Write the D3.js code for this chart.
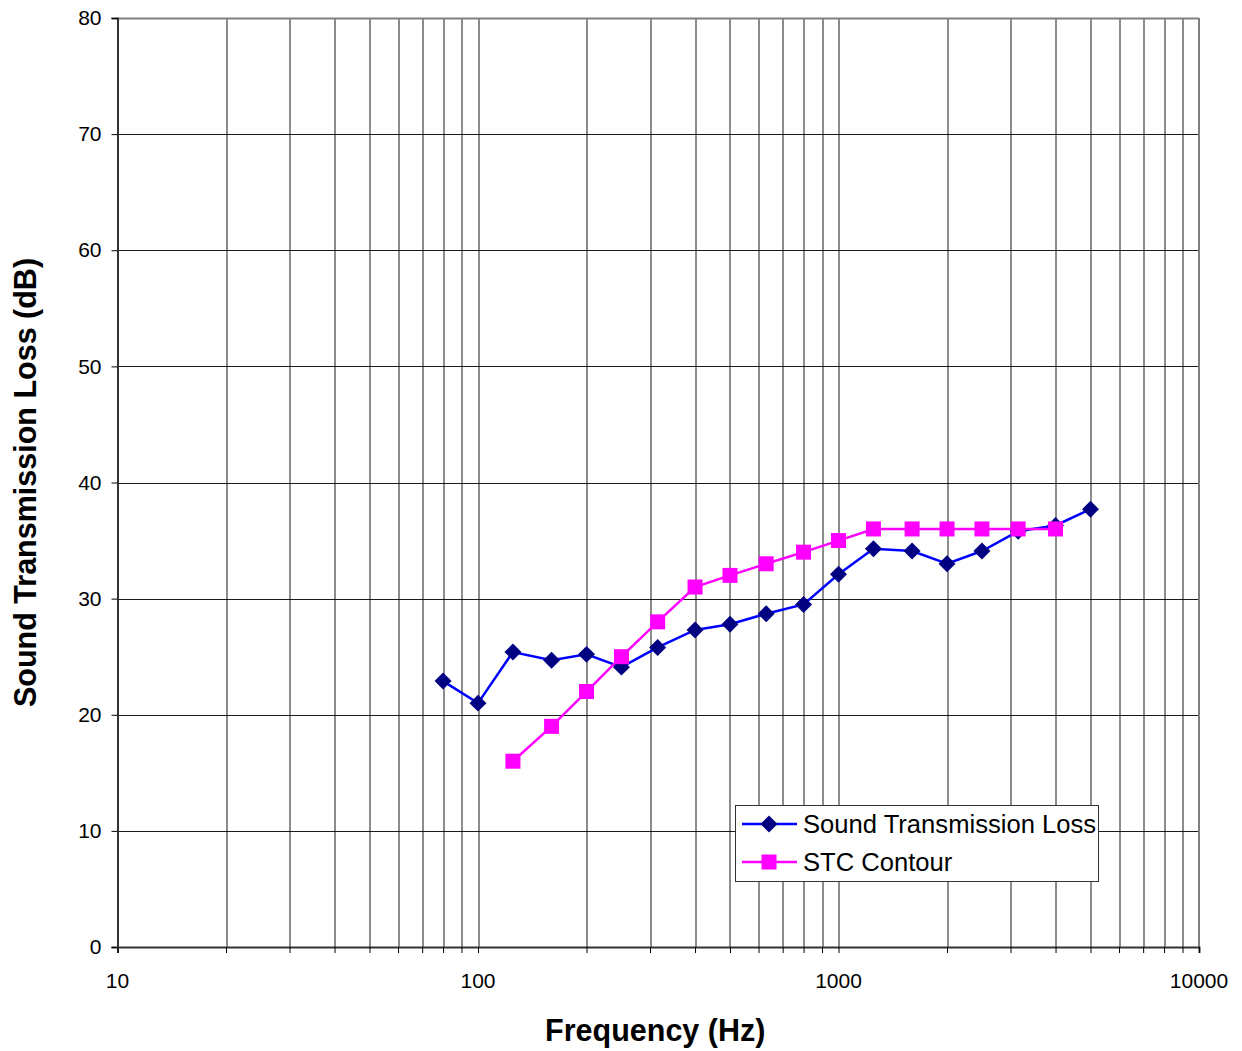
<!DOCTYPE html>
<html>
<head>
<meta charset="utf-8">
<script src="https://cdn.jsdelivr.net/npm/d3@7"></script>
<style>
  body { margin: 0; background: #fff; }
  svg text { font-family: Arial, "Liberation Sans", sans-serif; }
</style>
</head>
<body>
<svg id="chart" width="1242" height="1051"></svg>
<script>
var freqs = [80, 100, 125, 160, 200, 250, 315, 400, 500, 630, 800, 1000, 1250, 1600, 2000, 2500, 3150, 4000, 5000];
var stlValues = [22.9, 21.0, 25.4, 24.7, 25.2, 24.1, 25.8, 27.3, 27.8, 28.7, 29.5, 32.1, 34.3, 34.1, 33.0, 34.1, 35.8, 36.3, 37.7];
var stcFreqs = [125, 160, 200, 250, 315, 400, 500, 630, 800, 1000, 1250, 1600, 2000, 2500, 3150, 4000];
var stcValues = [16, 19, 22, 25, 28, 31, 32, 33, 34, 35, 36, 36, 36, 36, 36, 36];
var xTickLabels = [10, 100, 1000, 10000];
var yTicks = [0, 10, 20, 30, 40, 50, 60, 70, 80];

var margin = {top: 18, right: 43, bottom: 104, left: 117.5},
  width = 1242 - margin.left - margin.right,
  height = 1051 - margin.top - margin.bottom;

var svg = d3.select("#chart");
var g = svg.append("g")
  .attr("transform", "translate(" + margin.left + "," + margin.top + ")");

var x = d3.scaleLog().domain([10, 10000]).range([0, width]);
var y = d3.scaleLinear().domain([0, 80]).range([height, 0]);

// all log gridlines 10..10000
var minor = [];
[10, 100, 1000].forEach(function (d) {
  for (var k = 1; k < 10; k++) minor.push(d * k);
});
minor.push(10000);

g.selectAll(".vgrid")
  .data(minor.filter(function (d) { return d > 10 && d < 10000; }))
  .enter().append("line")
  .attr("x1", function (d) { return Math.round(x(d)) + 0.5; })
  .attr("x2", function (d) { return Math.round(x(d)) + 0.5; })
  .attr("y1", 0).attr("y2", height)
  .attr("stroke", "#000").attr("stroke-width", 0.9);

g.selectAll(".hgrid")
  .data(yTicks.filter(function (d) { return d > 0 && d < 80; }))
  .enter().append("line")
  .attr("x1", 0).attr("x2", width)
  .attr("y1", function (d) { return Math.round(y(d)) + 0.5; })
  .attr("y2", function (d) { return Math.round(y(d)) + 0.5; })
  .attr("stroke", "#000").attr("stroke-width", 0.9);

// top / right border
g.append("line").attr("x1", 0).attr("x2", width).attr("y1", 0.5).attr("y2", 0.5)
  .attr("stroke", "#808080").attr("stroke-width", 2);
g.append("line").attr("x1", width).attr("x2", width).attr("y1", 0).attr("y2", height)
  .attr("stroke", "#808080").attr("stroke-width", 2);

// axes
var xAxis = d3.axisBottom(x).tickValues(minor).tickSize(6).tickFormat("");
g.append("g").attr("transform", "translate(0," + height + ")").call(xAxis)
  .call(function (s) {
    s.select(".domain").attr("stroke", "#333").attr("stroke-width", 2);
    s.selectAll(".tick line").attr("stroke", "#000");
  });

g.selectAll(".xlab")
  .data(xTickLabels)
  .enter().append("text")
  .attr("x", function (d) { return x(d); })
  .attr("y", height + 41)
  .attr("text-anchor", "middle")
  .attr("font-size", 21)
  .text(function (d) { return d; });

var yAxis = d3.axisLeft(y).tickValues(yTicks).tickSize(6).tickPadding(10)
  .tickFormat(d3.format("d"));
g.append("g").call(yAxis)
  .call(function (s) {
    s.select(".domain").attr("stroke", "#333").attr("stroke-width", 2);
    s.selectAll(".tick line").attr("stroke", "#000");
    s.selectAll(".tick text").attr("font-size", 21).attr("fill", "#000")
      .attr("font-family", "Arial, 'Liberation Sans', sans-serif");
  });

// series
var stl = freqs.map(function (f, i) { return {f: f, v: stlValues[i]}; });
var stc = stcFreqs.map(function (f, i) { return {f: f, v: stcValues[i]}; });

var line = d3.line()
  .x(function (d) { return x(d.f); })
  .y(function (d) { return y(d.v); });

g.append("path").datum(stl).attr("d", line)
  .attr("fill", "none").attr("stroke", "#0000ff").attr("stroke-width", 2.5);
g.append("path").datum(stc).attr("d", line)
  .attr("fill", "none").attr("stroke", "#ff00ff").attr("stroke-width", 2.5);

g.selectAll(".stl")
  .data(stl)
  .enter().append("rect")
  .attr("x", -6).attr("y", -6).attr("width", 12).attr("height", 12)
  .attr("transform", function (d) { return "translate(" + x(d.f) + "," + y(d.v) + ") rotate(45)"; })
  .attr("fill", "#000080");

g.selectAll(".stc")
  .data(stc)
  .enter().append("rect")
  .attr("x", function (d) { return x(d.f) - 7.5; })
  .attr("y", function (d) { return y(d.v) - 7.5; })
  .attr("width", 15).attr("height", 15)
  .attr("fill", "#ff00ff");

// legend
var lg = svg.append("g").attr("transform", "translate(735,805)");
lg.append("rect").attr("x", 0.5).attr("y", 0.5).attr("width", 363).attr("height", 76)
  .attr("fill", "#fff").attr("stroke", "#333").attr("stroke-width", 1);

var legendItems = [
  {name: "Sound Transmission Loss", color: "#0000ff", mark: "diamond"},
  {name: "STC Contour", color: "#ff00ff", mark: "square"}
];
var row = lg.selectAll(".row").data(legendItems).enter().append("g")
  .attr("transform", function (d, i) { return "translate(0," + (19 + i * 38) + ")"; });
row.append("line").attr("x1", 7).attr("x2", 62).attr("y1", 0).attr("y2", 0)
  .attr("stroke", function (d) { return d.color; }).attr("stroke-width", 2.5);
row.append("rect")
  .attr("x", function (d) { return d.mark === "diamond" ? -6 : -7.5; })
  .attr("y", function (d) { return d.mark === "diamond" ? -6 : -7.5; })
  .attr("width", function (d) { return d.mark === "diamond" ? 12 : 15; })
  .attr("height", function (d) { return d.mark === "diamond" ? 12 : 15; })
  .attr("transform", function (d) { return "translate(34,0)" + (d.mark === "diamond" ? " rotate(45)" : ""); })
  .attr("fill", function (d) { return d.mark === "diamond" ? "#000080" : "#ff00ff"; });
row.append("text").attr("x", 68).attr("y", 9)
  .attr("font-size", 25.6).text(function (d) { return d.name; });

// axis titles
svg.append("text")
  .attr("x", margin.left + width / 2 - 3).attr("y", 1041)
  .attr("text-anchor", "middle").attr("font-size", 30.5).attr("font-weight", "bold")
  .text("Frequency (Hz)");
svg.append("text")
  .attr("transform", "translate(36," + (margin.top + height / 2) + ") rotate(-90)")
  .attr("text-anchor", "middle").attr("font-size", 30.5).attr("font-weight", "bold")
  .text("Sound Transmission Loss (dB)");
</script>
</body>
</html>
